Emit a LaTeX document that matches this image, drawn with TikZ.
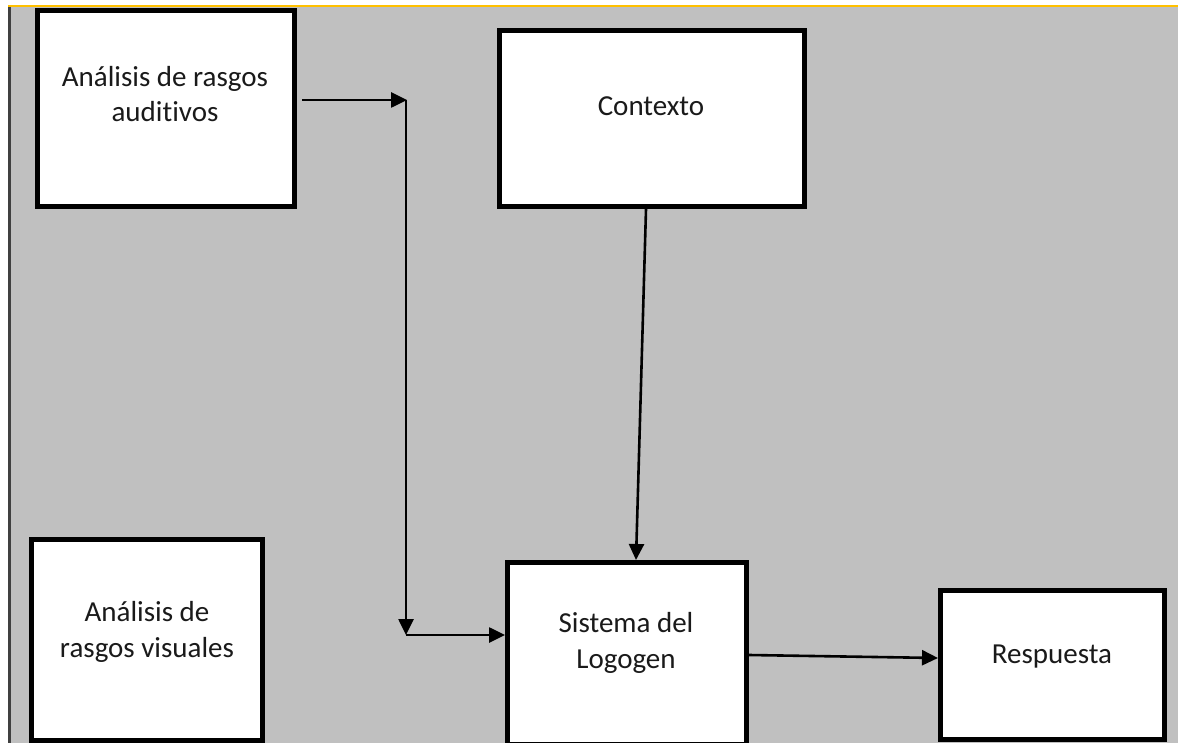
\documentclass[tikz,border=0pt]{standalone}
\usepackage{fontspec}
\setmainfont{Carlito}[Ligatures=NoCommon]
\usetikzlibrary{arrows.meta}
\definecolor{panel}{HTML}{C0C0C0}
\definecolor{rule}{HTML}{FFC000}
\definecolor{edge}{HTML}{404040}
\definecolor{ink}{HTML}{1A1A1A}
\begin{document}
\begin{tikzpicture}[x=1pt,y=-1pt,
  box/.style={draw=black, line width=5pt, fill=white, inner sep=0pt},
  lbl/.style={font=\fontsize{29}{35.5}\selectfont, text=ink, align=center, anchor=base, inner sep=0pt},
  arr/.style={line width=2.6pt, -{Triangle[length=16pt,width=15pt]}}]
\useasboundingbox (0,0) rectangle (1178,743);
\begin{scope}
\clip (0,0) rectangle (1178,743);
% page background, top rule and left edge
\fill[white] (0,0) rectangle (1178,743);
\fill[panel] (11,7) rectangle (1178,743);
\fill[rule] (8,5) rectangle (1178,7.5);
\fill[edge] (8,7) rectangle (11,743);

% boxes
\node[box, minimum width=257pt, minimum height=196pt] (aud) at (166,108.5) {};
\node[box, minimum width=305pt, minimum height=176pt] (ctx) at (652,118.5) {};
\node[box, minimum width=231pt, minimum height=201pt] (vis) at (147,640) {};
\node[box, minimum width=239pt, minimum height=182pt] (sys) at (627,653.5) {};
\node[box, minimum width=224pt, minimum height=149pt] (resp) at (1052.5,665) {};

% labels (anchored on the baseline of the last line)
\node[lbl] (taud) at (165,122) {Análisis de rasgos\\auditivos};
\node[lbl] (tctx) at (651,116) {Contexto};
\node[lbl] (tvis) at (147,657) {Análisis de\\rasgos visuales};
\node[lbl] (tsys) at (626,668) {Sistema del\\Logogen};
\node[lbl] (tresp) at (1052,663) {Respuesta};

% connectors
\coordinate (j1) at (406,100);
\coordinate (j2) at (406,635);
\draw[arr] ([xshift=5pt]aud.east |- j1) -- ([xshift=1pt]j1);
\draw[arr] (j1) -- (j2);
\draw[arr] (j2) -- (sys.west |- j2);
\draw[arr] ([xshift=-6pt]ctx.south) -- ([xshift=9pt]sys.north);
\draw[arr] ([yshift=-1.5pt]sys.east) -- ([yshift=7pt]resp.west);
\end{scope}
\end{tikzpicture}
\end{document}
